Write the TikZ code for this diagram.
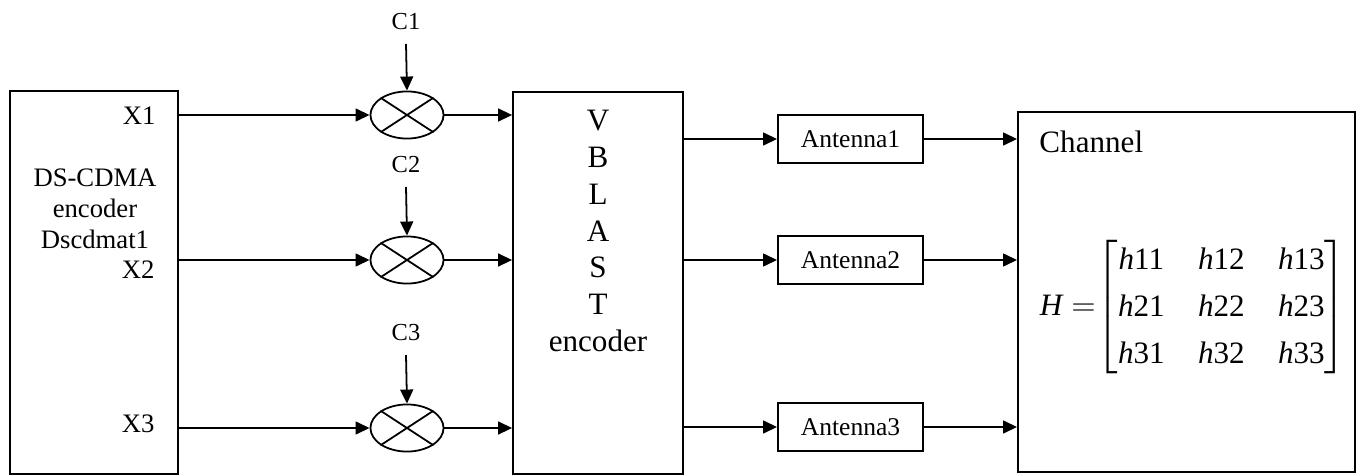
\documentclass[tikz,border=0pt]{standalone}
\usepackage{amsmath}
\usepackage{fontspec}
\setmainfont{Liberation Serif}
\usetikzlibrary{shapes,positioning,calc}
\usetikzlibrary{arrows.meta}

\newcommand{\hel}[1]{\textit{h}\textup{#1}}

\begin{document}
\begin{tikzpicture}[x=0.45pt, y=-0.45pt,
    blk/.style={draw, line width=0.8pt, inner sep=0pt},
    mult/.style={draw, ellipse, line width=0.8pt, minimum width=32.9pt, minimum height=21.2pt, inner sep=0pt},
    arr/.style={-{Triangle[length=6.3pt,width=5.8pt]}, line width=0.8pt},
    lbl/.style={inner sep=0pt, font=\fontsize{12}{14}\selectfont},
    clbl/.style={inner sep=0pt, font=\fontsize{11}{13}\selectfont}]
    \useasboundingbox (0,0) rectangle (1359,475);

    % Main blocks
    \node[blk, minimum width=75.6pt, minimum height=172.4pt] (dsenc) at (94,282.5) {};
    \node[blk, minimum width=76.5pt, minimum height=171.9pt] (vblast) at (598,283) {};
    \node[blk, minimum width=151.7pt, minimum height=162pt] (channel) at (1186.5,292) {};

    \node[lbl, align=center] (dslabel) at (95,209) {DS-CDMA\\encoder\\Dscdmat1};
    \node[inner sep=0pt, align=center, font=\fontsize{14}{16.6}\selectfont] (vblabel) at (598,231)
        {V\\B\\L\\A\\S\\T\\encoder};
    \node[inner sep=0pt, anchor=west, font=\fontsize{14}{16}\selectfont] (chlabel) at (1039,142) {Channel};
    \node[inner sep=0pt, font=\fontsize{14}{17}\selectfont] (hmat) at (1193,307) {%
        \setlength{\arraycolsep}{7.5pt}\renewcommand{\arraystretch}{1.25}%
        $\textit{H} =\hspace{-3.5pt}\begin{bmatrix}
            \hel{11} & \hel{12} & \hel{13}\\
            \hel{21} & \hel{22} & \hel{23}\\
            \hel{31} & \hel{32} & \hel{33}
        \end{bmatrix}$};

    % Multipliers with spreading codes
    \foreach \i/\y/\cy in {1/115/22, 2/260/165, 3/428/333}{
        \node[mult] (mult\i) at (407,\y) {};
        \draw[line width=0.8pt] (mult\i.north west) -- (mult\i.south east)
            (mult\i.north east) -- (mult\i.south west);
        \node[clbl] (c\i) at (406,\cy) {C\i};
        \draw[arr] ([yshift=-6pt]c\i.south) -- (mult\i.north);
        \draw[arr] (dsenc.east |- mult\i.west) -- (mult\i.west);
        \draw[arr] (mult\i.east) -- (mult\i.east -| vblast.west);
    }

    % Input names
    \node[lbl, anchor=east] (x1) at (156,116) {X1};
    \node[lbl, anchor=east] (x2) at (155,270) {X2};
    \node[lbl, anchor=east] (x3) at (155,424) {X3};

    % Antennas
    \foreach \i/\y in {1/139, 2/260, 3/427}{
        \node[blk, minimum width=65.3pt, minimum height=21.6pt, font=\fontsize{11.5}{13}\selectfont]
            (ant\i) at (850.5,\y) {Antenna\i};
        \draw[arr] (vblast.east |- ant\i.west) -- (ant\i.west);
        \draw[arr] (ant\i.east) -- (ant\i.east -| channel.west);
    }
\end{tikzpicture}
\end{document}
